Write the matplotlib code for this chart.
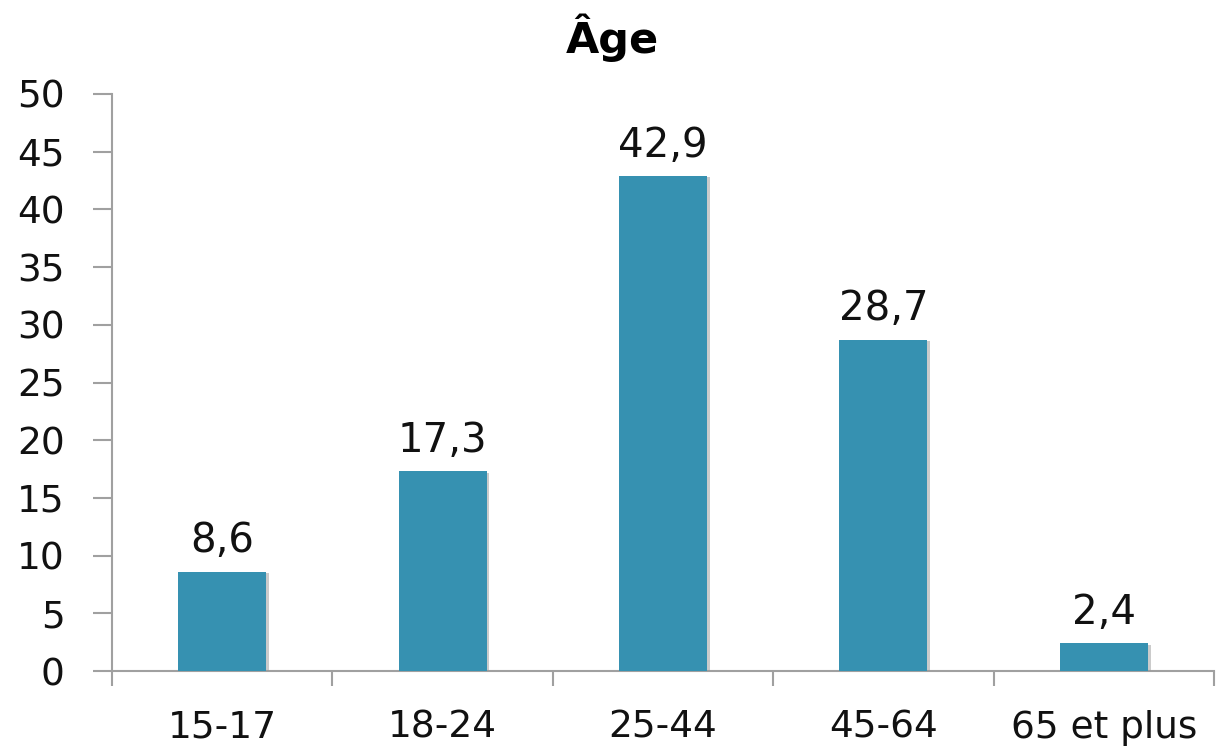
import matplotlib
matplotlib.use("Agg")
import matplotlib.pyplot as plt
import matplotlib.patheffects as pe

categories = ["15-17", "18-24", "25-44", "45-64", "65 et plus"]
values = [8.6, 17.3, 42.9, 28.7, 2.4]
labels = ["8,6", "17,3", "42,9", "28,7", "2,4"]
yticks = [0, 5, 10, 15, 20, 25, 30, 35, 40, 45, 50]

plt.rcParams['font.family'] = ['DejaVu Sans']
fig = plt.figure(figsize=(12.18, 7.52), dpi=100)
ax = fig.add_axes([0.092, 0.1077, 0.9047, 0.7673])

x = list(range(len(categories)))
bars = ax.bar(x, values, width=0.4, color="#3691b1", zorder=3,
              path_effects=[pe.SimplePatchShadow(offset=(2, -1), shadow_rgbFace="#999999", alpha=0.5), pe.Normal()])
for xi, v, lab in zip(x, values, labels):
    ax.text(xi, v + 0.9, lab, ha="center", va="bottom", fontsize=29, color="#111111")

ax.set_xlim(-0.5, len(categories) - 0.5)
ax.set_ylim(0, 50)
ax.set_yticks(yticks)
ax.set_yticklabels([str(t) for t in yticks], fontsize=27, color="#111111")
ax.set_xticks([i - 0.5 for i in range(len(categories) + 1)])
ax.set_xticklabels([])
ax.set_xticks(x, minor=True)
ax.set_xticklabels(categories, minor=True, fontsize=27, color="#111111")
ax.tick_params(axis="x", which="minor", length=0, pad=28)
ax.tick_params(axis="x", which="major", length=11, width=1.5, color="#a0a0a0", direction="out")
ax.tick_params(axis="y", length=14, width=1.5, color="#a0a0a0", direction="out", pad=20)
for s in ["top", "right"]:
    ax.spines[s].set_visible(False)
for s in ["left", "bottom"]:
    ax.spines[s].set_color("#a0a0a0")
    ax.spines[s].set_linewidth(1.5)

fig.suptitle("Âge", x=0.503, y=0.982, fontsize=31, fontweight="bold", va="top")
fig.savefig("out.png", dpi=100)
